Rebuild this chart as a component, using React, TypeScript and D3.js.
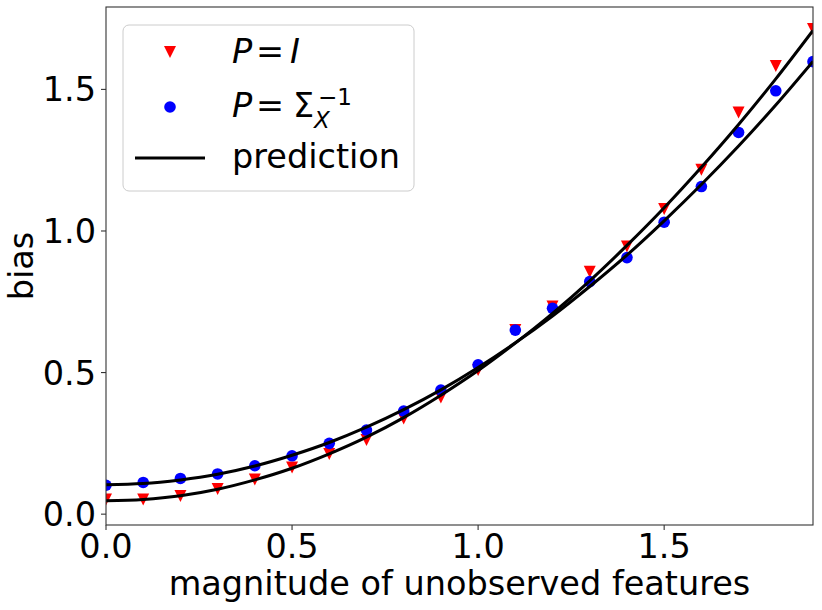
import React from "react";
import * as d3 from "d3";

const xs = [0, 0.1, 0.2, 0.3, 0.4, 0.5, 0.6, 0.7, 0.8, 0.9, 1.0, 1.1, 1.2, 1.3, 1.4, 1.5, 1.6, 1.7, 1.8, 1.9];
const biasIdentity = [0.052, 0.052, 0.064, 0.089, 0.122, 0.165, 0.212, 0.262, 0.338, 0.412, 0.509, 0.65, 0.733, 0.856, 0.945, 1.078, 1.216, 1.418, 1.583, 1.713];
const biasInverse = [0.102, 0.112, 0.126, 0.142, 0.171, 0.206, 0.25, 0.297, 0.364, 0.438, 0.527, 0.65, 0.727, 0.821, 0.906, 1.031, 1.157, 1.348, 1.495, 1.598];
const predIdentity = [0.047, 0.052, 0.065, 0.088, 0.121, 0.162, 0.213, 0.272, 0.341, 0.42, 0.507, 0.604, 0.709, 0.824, 0.949, 1.082, 1.225, 1.376, 1.537, 1.708];
const predInverse = [0.104, 0.108, 0.121, 0.141, 0.17, 0.208, 0.253, 0.307, 0.369, 0.439, 0.518, 0.605, 0.7, 0.804, 0.915, 1.036, 1.164, 1.3, 1.445, 1.599];
const xTicks = [0, 0.5, 1.0, 1.5];
const yTicks = [0, 0.5, 1.0, 1.5];

const W = 822, H = 610;
const L = 106, R = 813, T = 7, B = 525;
const FONT = "'DejaVu Sans', sans-serif";
const FS = 33.5;

export default function App() {
  const x = d3.scaleLinear().domain([0, 1.9]).range([L, R]);
  const y = d3.scaleLinear().domain([-0.0383, 1.791]).range([B, T]);
  const line = d3.line<number>().x((_, i) => x(xs[i])).y((d) => y(d)).curve(d3.curveMonotoneX);
  const ms = 6;
  const tri = (cx: number, cy: number) => `M${cx - ms},${cy - ms}L${cx + ms},${cy - ms}L${cx},${cy + ms}Z`;

  return (
    <svg width={W} height={H} style={{ position: "absolute", left: 0, top: 0, background: "#fff" }} fontFamily={FONT}>
      <defs>
        <clipPath id="plot">
          <rect x={L} y={T} width={R - L} height={B - T} />
        </clipPath>
      </defs>
      <rect x={0} y={0} width={W} height={H} fill="#fff" />
      <g clipPath="url(#plot)">
        {biasIdentity.map((v, i) => (
          <path key={"r" + i} d={tri(x(xs[i]), y(v))} fill="#ff0000" />
        ))}
        {biasInverse.map((v, i) => (
          <circle key={"b" + i} cx={x(xs[i])} cy={y(v)} r={5.8} fill="#0000ff" />
        ))}
        <path d={line(predIdentity) || ""} fill="none" stroke="#000" strokeWidth={3} />
        <path d={line(predInverse) || ""} fill="none" stroke="#000" strokeWidth={3} />
      </g>
      <rect x={L} y={T} width={R - L} height={B - T} fill="none" stroke="#333" strokeWidth={1.1} />
      {xTicks.map((t) => (
        <g key={"xt" + t}>
          <line x1={x(t)} x2={x(t)} y1={B} y2={B + 5} stroke="#333" strokeWidth={1.1} />
          <text x={x(t)} y={558} textAnchor="middle" fontSize={FS} fill="#000">{t.toFixed(1)}</text>
        </g>
      ))}
      {yTicks.map((t) => (
        <g key={"yt" + t}>
          <line x1={L - 5} x2={L} y1={y(t)} y2={y(t)} stroke="#333" strokeWidth={1.1} />
          <text x={96} y={y(t) + 12} textAnchor="end" fontSize={FS} fill="#000">{t.toFixed(1)}</text>
        </g>
      ))}
      <text x={(L + R) / 2} y={595} textAnchor="middle" fontSize={FS} fill="#000">magnitude of unobserved features</text>
      <text transform={`translate(33,${(T + B) / 2}) rotate(-90)`} textAnchor="middle" fontSize={FS} fill="#000">bias</text>

      <g>
        <rect x={123} y={25} width={291} height={166} rx={6} ry={6} fill="#fff" fillOpacity={0.8} stroke="#ccc" strokeWidth={1} />
        <path d={tri(170, 52)} fill="#ff0000" />
        <circle cx={170} cy={107} r={5.8} fill="#0000ff" />
        <line x1={135} x2={205} y1={158} y2={158} stroke="#000" strokeWidth={3} />
        <text x={232} y={63} fontSize={FS} fill="#000" fontStyle="italic">P</text>
        <text x={256} y={63} fontSize={FS} fill="#000">=</text>
        <text x={290} y={63} fontSize={FS} fill="#000" fontStyle="italic">I</text>
        <text x={232} y={117} fontSize={FS} fill="#000" fontStyle="italic">P</text>
        <text x={256} y={117} fontSize={FS} fill="#000">=</text>
        <text x={293} y={117} fontSize={FS} fill="#000">Σ</text>
        <text x={314} y={128} fontSize={23} fill="#000" fontStyle="italic">X</text>
        <text x={318} y={105} fontSize={23} fill="#000">−1</text>
        <text x={232} y={168} fontSize={FS} fill="#000">prediction</text>
      </g>
    </svg>
  );
}
